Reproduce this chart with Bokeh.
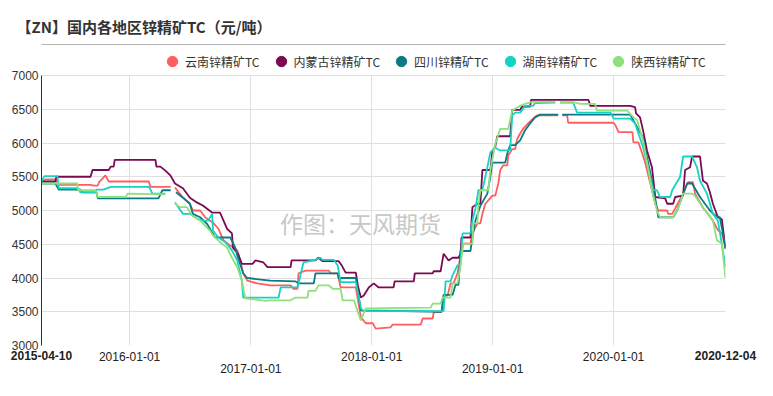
import pandas as pd
from bokeh.plotting import figure
from bokeh.models import (Range1d, DatetimeAxis, LinearAxis, FixedTicker, Legend, LegendItem,
                          Label, ColumnDataSource)
from bokeh.embed import file_html
from bokeh.resources import INLINE

NaN = float("nan")

title_text = "【ZN】国内各地区锌精矿TC（元/吨）"
watermark_text = "作图：天风期货"
series_names = ["云南锌精矿TC", "内蒙古锌精矿TC", "四川锌精矿TC", "湖南锌精矿TC", "陕西锌精矿TC"]
series_colors = ["#ff5e5e", "#7a0a52", "#0c7a84", "#14d3c3", "#8ee07c"]

x_start, x_end = "2015-04-10", "2020-12-04"
year_ticks = ["2016-01-01", "2017-01-01", "2018-01-01", "2019-01-01", "2020-01-01"]
row2_ticks = ["2017-01-01", "2019-01-01"]
y_ticks = [3000, 3500, 4000, 4500, 5000, 5500, 6000, 6500, 7000]

yunnan = [("2015-04-10",5430),("2015-04-22",5460),("2015-05-22",5460),("2015-06-01",5380),("2015-09-05",5380),
    ("2015-09-15",5370),("2015-09-27",5370),("2015-10-01",5420),("2015-10-20",5520),("2015-10-30",5430),
    ("2016-02-28",5430),("2016-03-04",5350),("2016-05-04",5350),("2016-05-10",NaN),("2016-05-17",5340),
    ("2016-06-10",5190),("2016-07-01",5100),("2016-07-10",5000),("2016-08-01",5000),("2016-08-16",4900),
    ("2016-09-09",4820),("2016-09-25",4730),("2016-10-10",4560),("2016-10-31",4480),("2016-11-21",4410),
    ("2016-11-30",4260),("2016-12-09",4070),("2016-12-21",3960),("2017-01-21",3920),("2017-03-01",3890),
    ("2017-05-01",3890),("2017-05-10",3840),("2017-05-22",3840),("2017-05-25",4070),("2017-06-15",4110),
    ("2017-08-24",4110),("2017-08-30",4070),("2017-09-20",4070),("2017-09-29",3860),("2017-11-14",3860),
    ("2017-11-29",3420),("2017-12-14",3330),("2018-01-04",3330),("2018-01-13",3250),("2018-02-27",3270),
    ("2018-03-05",3310),("2018-05-29",3310),("2018-06-04",3400),("2018-07-04",3400),("2018-07-07",3490),
    ("2018-07-31",3500),("2018-08-06",3740),("2018-08-18",3740),("2018-08-27",3920),("2018-09-05",3920),
    ("2018-09-17",4070),("2018-10-02",4510),("2018-10-26",4510),("2018-11-01",4660),("2018-11-16",4810),
    ("2018-11-25",4810),("2018-12-01",4950),("2018-12-10",5100),("2018-12-31",5220),("2019-01-09",5220),
    ("2019-01-18",5400),("2019-01-24",5600),("2019-02-02",5670),("2019-02-14",5670),("2019-02-17",5810),
    ("2019-03-01",5910),("2019-03-10",5910),("2019-03-16",6060),("2019-03-25",6140),("2019-04-03",6210),
    ("2019-04-18",6290),("2019-05-03",6360),("2019-05-15",6410),("2019-07-18",6410),("2019-07-24",NaN),
    ("2019-07-30",6410),("2019-08-14",6410),("2019-08-17",6300),("2020-01-01",6300),("2020-01-07",6260),
    ("2020-01-16",6160),("2020-02-27",6160),("2020-03-01",6010),("2020-03-16",6010),("2020-03-28",5840),
    ("2020-04-06",5700),("2020-04-21",5400),("2020-05-06",5100),("2020-05-15",5000),("2020-06-11",5000),
    ("2020-06-14",4950),("2020-06-26",4950),("2020-07-05",5030),("2020-07-29",5250),("2020-08-13",5420),
    ("2020-08-28",5420),("2020-09-03",5250),("2020-09-27",5040),("2020-10-12",4950),("2020-10-27",4850),
    ("2020-11-11",4710),("2020-11-23",4660),("2020-12-04",4450)]

neimenggu = [("2015-04-10",5430),("2015-05-22",5430),("2015-05-25",5500),("2015-09-05",5500),("2015-09-11",5600),
    ("2015-10-30",5600),("2015-11-05",5650),("2015-11-14",5650),("2015-11-17",5750),("2016-03-19",5750),
    ("2016-03-22",5650),("2016-04-03",5650),("2016-04-18",5590),("2016-05-03",5520),("2016-05-17",5400),
    ("2016-06-10",5330),("2016-07-01",5190),("2016-07-22",5120),("2016-08-10",5070),("2016-09-06",4970),
    ("2016-09-30",4970),("2016-10-21",4730),("2016-11-05",4660),("2016-11-08",4450),("2016-11-23",4360),
    ("2016-12-05",4210),("2017-01-06",4210),("2017-01-15",4260),("2017-02-08",4230),("2017-02-20",4160),
    ("2017-05-01",4160),("2017-05-04",4260),("2017-07-15",4260),("2017-07-24",4300),("2017-08-05",4250),
    ("2017-09-23",4250),("2017-10-02",4190),("2017-10-14",4080),("2017-11-14",4080),("2017-11-20",3890),
    ("2017-11-29",3710),("2017-12-08",3740),("2017-12-23",3860),("2018-01-07",3920),("2018-01-22",3860),
    ("2018-03-08",3860),("2018-03-11",3950),("2018-05-08",3950),("2018-05-11",4070),("2018-07-04",4070),
    ("2018-07-07",4100),("2018-07-28",4100),("2018-08-06",4360),("2018-08-21",4260),("2018-09-02",4300),
    ("2018-09-20",4300),("2018-09-26",4360),("2018-09-29",4600),("2018-10-26",4600),("2018-11-01",5050),
    ("2018-11-16",5100),("2018-11-25",5100),("2018-12-01",5600),("2018-12-25",5600),("2018-12-31",5860),
    ("2019-01-09",5950),("2019-01-15",6100),("2019-02-23",6100),("2019-03-01",6490),("2019-03-25",6490),
    ("2019-03-31",6540),("2019-04-24",6540),("2019-04-27",6640),("2019-10-17",6640),("2019-10-23",6550),
    ("2020-02-20",6550),("2020-03-06",6530),("2020-03-09",6440),("2020-03-21",6380),("2020-03-30",6190),
    ("2020-04-11",5890),("2020-04-26",5640),("2020-05-06",5200),("2020-06-05",5180),("2020-06-11",5100),
    ("2020-06-29",5100),("2020-07-05",5200),("2020-07-29",5220),("2020-08-04",5600),("2020-08-19",5640),
    ("2020-08-25",5800),("2020-09-18",5800),("2020-09-27",5440),("2020-10-09",5400),("2020-10-18",5270),
    ("2020-10-27",5100),("2020-11-11",4900),("2020-11-23",4870),("2020-12-04",4430)]

sichuan = [("2015-04-10",5400),("2015-05-22",5400),("2015-06-01",5310),("2015-08-05",5310),("2015-08-11",5270),
    ("2015-09-23",5270),("2015-09-27",5180),("2016-03-28",5180),("2016-04-09",5300),("2016-05-04",5300),
    ("2016-05-12",NaN),("2016-05-20",5270),("2016-06-10",5190),("2016-07-01",5100),("2016-07-10",4950),
    ("2016-08-01",4900),("2016-08-22",4800),("2016-09-15",4600),("2016-10-31",4600),("2016-11-15",4450),
    ("2016-11-23",4300),("2016-12-09",4070),("2016-12-21",4000),("2017-03-01",3960),("2017-05-16",3950),
    ("2017-05-25",3920),("2017-07-10",3920),("2017-07-15",4070),("2017-09-20",4070),("2017-09-23",4000),
    ("2017-11-14",4000),("2017-11-29",3520),("2018-07-31",3500),("2018-08-06",3750),("2018-09-02",3750),
    ("2018-09-11",3900),("2018-09-20",3900),("2018-09-26",4400),("2018-10-26",4400),("2018-11-01",4600),
    ("2018-11-10",4850),("2018-11-25",5070),("2018-12-16",5250),("2018-12-25",5500),("2018-12-31",5710),
    ("2019-02-08",5710),("2019-02-14",5840),("2019-02-23",5970),("2019-03-10",5970),("2019-03-25",6040),
    ("2019-04-09",6190),("2019-04-24",6290),("2019-05-09",6380),("2019-05-24",6420),("2019-07-18",6420),
    ("2019-07-24",NaN),("2019-07-30",6420),("2020-02-20",6420),("2020-03-06",6290),("2020-03-30",6080),
    ("2020-04-11",5790),("2020-04-26",5440),("2020-05-11",5040),("2020-05-15",4900),("2020-06-29",4900),
    ("2020-07-11",5000),("2020-07-26",5200),("2020-08-10",5400),("2020-08-25",5400),("2020-09-18",5200),
    ("2020-10-03",5100),("2020-10-18",5000),("2020-11-02",4930),("2020-11-17",4900),("2020-12-04",4450)]

hunan = [("2015-04-10",5430),("2015-04-19",5510),("2015-05-28",5510),("2015-06-01",5330),("2015-07-30",5330),
    ("2015-08-05",5270),("2015-09-20",5270),("2015-09-23",5310),("2015-10-14",5310),("2015-11-05",5350),
    ("2016-02-28",5350),("2016-03-04",5310),("2016-03-10",5250),("2016-04-18",5250),("2016-05-01",NaN),
    ("2016-05-17",5120),("2016-06-10",4950),("2016-07-01",4950),("2016-07-22",4880),("2016-08-10",4850),
    ("2016-08-25",4850),("2016-09-06",4950),("2016-09-09",4700),("2016-09-25",4600),("2016-10-16",4530),
    ("2016-11-05",4410),("2016-11-21",4260),("2016-12-05",3960),("2016-12-09",3710),("2017-03-26",3710),
    ("2017-04-01",3860),("2017-05-22",3860),("2017-06-09",4230),("2017-07-15",4270),("2017-07-30",4300),
    ("2017-08-05",4270),("2017-09-08",4270),("2017-09-20",4190),("2017-09-29",3940),("2017-11-14",3940),
    ("2017-11-29",3560),("2017-12-05",3510),("2018-08-06",3510),("2018-08-12",3950),("2018-08-27",3950),
    ("2018-09-02",4040),("2018-09-17",4190),("2018-09-26",4190),("2018-10-02",4660),("2018-10-26",4660),
    ("2018-11-01",4850),("2018-11-10",5030),("2018-11-19",5300),("2018-12-01",5300),("2018-12-10",5500),
    ("2018-12-16",5640),("2018-12-25",5860),("2019-01-09",5930),("2019-01-24",5890),("2019-02-23",5890),
    ("2019-03-01",6410),("2019-03-10",6450),("2019-03-25",6450),("2019-04-09",6550),("2019-05-03",6550),
    ("2019-05-09",6590),("2019-07-09",6600),("2019-07-16",NaN),("2019-07-24",6600),("2019-09-01",6600),
    ("2019-09-13",6450),("2019-12-23",6450),("2020-01-01",6360),("2020-02-20",6360),("2020-03-06",6290),
    ("2020-03-30",5940),("2020-04-14",5640),("2020-04-30",5300),("2020-05-11",5300),("2020-05-20",5200),
    ("2020-06-20",5200),("2020-06-26",5300),("2020-07-20",5500),("2020-07-29",5800),("2020-08-25",5800),
    ("2020-09-09",5640),("2020-09-18",5440),("2020-10-09",5250),("2020-10-27",4950),("2020-11-11",4850),
    ("2020-11-26",4410),("2020-12-04",4160)]

shaanxi = [("2015-04-10",5400),("2015-07-27",5400),("2015-07-30",5300),("2015-09-20",5300),("2015-09-27",5200),
    ("2015-12-20",5200),("2015-12-26",5250),("2016-04-18",5240),("2016-05-01",NaN),("2016-05-17",5100),
    ("2016-06-01",5050),("2016-06-22",5050),("2016-07-07",4930),("2016-08-01",4850),("2016-08-31",4700),
    ("2016-09-09",4630),("2016-09-30",4530),("2016-10-21",4450),("2016-11-05",4300),("2016-11-21",4160),
    ("2016-12-05",3960),("2016-12-15",3700),("2017-02-14",3660),("2017-03-01",3670),("2017-05-01",3670),
    ("2017-05-16",3710),("2017-06-21",3710),("2017-06-24",3810),("2017-07-15",3810),("2017-07-24",3890),
    ("2017-08-24",3890),("2017-09-05",3840),("2017-09-29",3840),("2017-10-05",3670),("2017-11-08",3670),
    ("2017-11-29",3370),("2017-12-14",3550),("2018-06-28",3560),("2018-07-04",3620),("2018-07-28",3620),
    ("2018-08-03",3710),("2018-08-27",3710),("2018-09-02",3920),("2018-09-17",3920),("2018-09-26",4190),
    ("2018-10-05",4510),("2018-11-01",4510),("2018-11-04",4810),("2018-11-16",4810),("2018-11-19",5100),
    ("2018-11-25",5300),("2018-12-19",5300),("2018-12-25",5600),("2019-01-09",5990),("2019-01-24",6210),
    ("2019-02-17",6210),("2019-03-01",6480),("2019-03-25",6550),("2019-04-09",6580),("2019-04-30",6610),
    ("2019-07-09",6610),("2019-07-16",NaN),("2019-07-24",6600),("2019-09-07",6600),("2019-09-22",6580),
    ("2019-11-06",6580),("2019-11-12",6480),("2020-02-11",6480),("2020-03-01",6380),("2020-03-12",6340),
    ("2020-03-30",6040),("2020-04-14",5640),("2020-04-26",5300),("2020-05-11",5000),("2020-05-20",4900),
    ("2020-06-29",4900),("2020-07-14",5030),("2020-07-29",5250),("2020-08-25",5250),("2020-09-03",5220),
    ("2020-09-27",5040),("2020-10-12",4950),("2020-10-27",4850),("2020-11-08",4560),("2020-11-23",4510),
    ("2020-12-04",4000)]

all_series = [yunnan, neimenggu, sichuan, hunan, shaanxi]

CJK = "Noto Sans CJK SC"
LAT = "Liberation Sans"

# layout (pixels): frame spans y 44..345, value axis occupies 75..345 (legend row above it)
FRAME_TOP, AXIS_TOP, FRAME_BOTTOM = 44, 75, 345
y_lo, y_hi = y_ticks[0], y_ticks[-1]
y_top = y_hi + (AXIS_TOP - FRAME_TOP) * (y_hi - y_lo) / (FRAME_BOTTOM - AXIS_TOP)


def ms(d):
    return pd.Timestamp(d).value // 10**6


p = figure(width=773, height=396, x_axis_type="datetime", output_backend="svg",
           toolbar_location=None,
           x_range=Range1d(pd.Timestamp(x_start), pd.Timestamp(x_end)),
           y_range=Range1d(y_lo, y_top),
           min_border_left=41, min_border_right=48, min_border_top=FRAME_TOP,
           min_border_bottom=396 - FRAME_BOTTOM)
p.outline_line_color = None

p.xgrid.ticker = FixedTicker(ticks=[ms(d) for d in year_ticks])
p.xgrid.cross_bounds = (y_lo, y_hi)
p.ygrid.ticker = FixedTicker(ticks=y_ticks)
for g in (p.xgrid, p.ygrid):
    g.grid_line_color = "#e0e0e0"
    g.grid_line_width = 1

ya = p.yaxis[0]
ya.ticker = FixedTicker(ticks=y_ticks)
ya.bounds = (y_lo, y_hi)
ya.axis_line_color = "#333333"
ya.major_tick_line_color = None
ya.minor_tick_line_color = None
ya.major_tick_out = 0
ya.major_tick_in = 0
ya.minor_tick_out = 0
ya.major_label_standoff = 3
ya.major_label_text_font = LAT
ya.major_label_text_font_size = "12px"
ya.major_label_text_color = "#333333"

xa1 = p.below[0]
xa1.ticker = FixedTicker(ticks=[ms(x_start), ms(x_end)])
xa1.major_label_overrides = {ms(x_start): x_start, ms(x_end): x_end}
xa1.major_label_text_font_style = "bold"

xa2 = DatetimeAxis()
xa2.ticker = FixedTicker(ticks=[ms(d) for d in year_ticks])
xa2.major_label_overrides = {ms(d): ("\n" + d if d in row2_ticks else d) for d in year_ticks}
p.add_layout(xa2, "below")

for ax in (xa1, xa2):
    ax.axis_line_color = None
    ax.major_tick_line_color = None
    ax.minor_tick_line_color = None
    ax.major_tick_out = 0
    ax.major_tick_in = 0
    ax.minor_tick_out = 0
    ax.major_label_text_font = LAT
    ax.major_label_text_font_size = "12px"
    ax.major_label_text_color = "#222222"
xa1.major_label_standoff = 5
xa2.major_label_standoff = -13
xa2.major_label_text_line_height = 0.9

for data, col in zip(all_series, series_colors):
    src = ColumnDataSource(dict(x=pd.to_datetime([d for d, _ in data]), y=[v for _, v in data]))
    p.line("x", "y", source=src, line_color=col, line_width=1.8)

# legend: inside the frame, in the strip above the 7000 line (circle markers only)
items = []
for name, col in zip(series_names, series_colors):
    r = p.scatter(x=[NaN], y=[NaN], marker="circle", fill_color=col, line_color=col)
    items.append(LegendItem(label=name, renderers=[r]))
legend = Legend(items=items, orientation="horizontal",
                location=(118, FRAME_BOTTOM - AXIS_TOP),
                glyph_width=26, glyph_height=28, label_standoff=0, spacing=8,
                padding=0, margin=0, border_line_color=None, background_fill_alpha=0,
                label_text_font=CJK, label_text_font_size="12px", label_text_color="#333333")
p.add_layout(legend)

# separator line under the title: a bare axis line
sep = LinearAxis(ticker=FixedTicker(ticks=[]), axis_line_color="#b4b4b4", axis_line_width=1,
                 major_tick_out=0, major_tick_in=0, minor_tick_out=0, minor_tick_in=0,
                 major_tick_line_color=None, minor_tick_line_color=None,
                 major_label_standoff=0, major_label_text_font_size="0px")
p.add_layout(sep, "above")

# title (outermost)
p.title.text = title_text
p.title.align = "left"
p.title.offset = -25
p.title.standoff = 15
p.title.text_font = CJK
p.title.text_font_size = "15px"
p.title.text_font_style = "bold"
p.title.text_color = "#333333"

p.add_layout(Label(x=319, y=FRAME_BOTTOM - 222, x_units="screen", y_units="screen",
                   text=watermark_text, text_font=CJK, text_font_size="23px",
                   text_align="center", text_baseline="middle", text_color="#c8c8c8"))

open("out.html", "w").write(file_html(p, INLINE))
